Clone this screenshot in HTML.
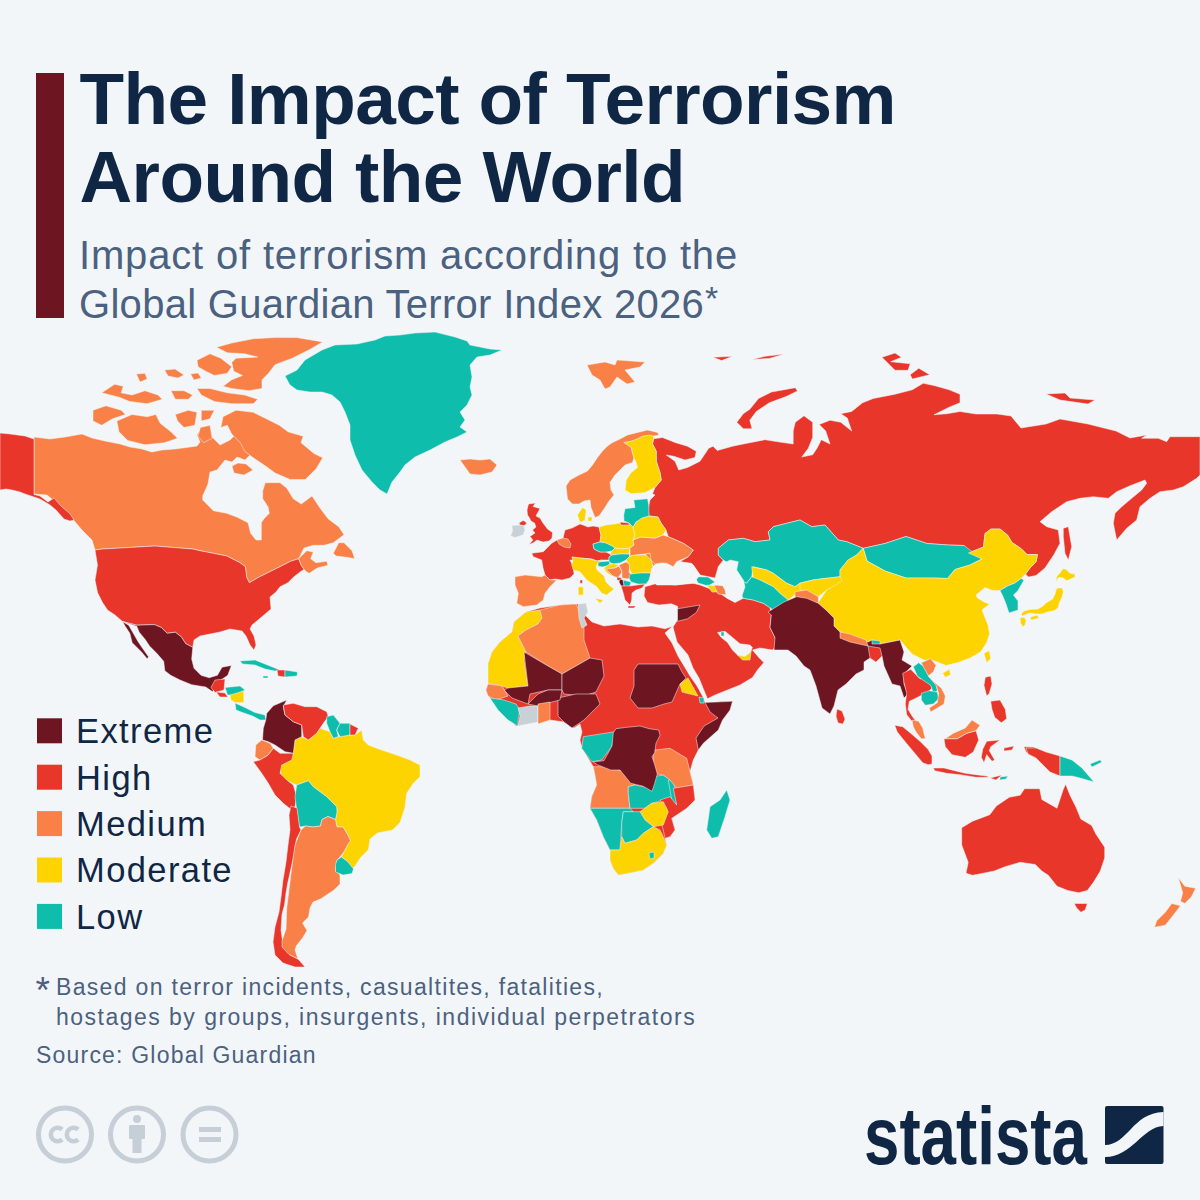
<!DOCTYPE html>
<html><head><meta charset="utf-8">
<style>
html,body{margin:0;padding:0;}
body{width:1200px;height:1200px;background:#f3f6f9;overflow:hidden;}
svg{position:absolute;left:0;top:0;}
text{font-family:"Liberation Sans",sans-serif;}
</style></head><body>
<svg width="1200" height="1200" viewBox="0 0 1200 1200">
<g stroke="#f3f6f9" stroke-width="0.5" stroke-linejoin="round">
<path fill="#f98147" d="M34,437 L50,439 L65,437 L82,434 L92,438 L105,441 L120,444 L130,447 L142,449 L152,452 L162,450 L175,449 L190,447 L197,446 L200,442 L197,435 L200,430 L207,432 L215,440 L220,445 L230,440 L235,435 L240,440 L247,447 L250,455 L245,460 L237,457 L232,462 L225,460 L217,470 L210,472 L208,484 L202.7,496 L202.7,500 L206.7,504 L213.3,510.7 L226.7,513.3 L237.3,517.3 L248,522.7 L250.7,533.3 L256,540 L261.3,540 L261.3,522.7 L264,518.7 L269.3,513.3 L268,506.7 L262.7,498.7 L262.7,490.7 L265.3,482.7 L280,482.7 L286.7,488 L293.3,498.7 L301.3,504 L312,496 L320,508 L328,518.7 L338.7,526.7 L344,534.7 L333.3,542.7 L324,545.3 L313.3,545.3 L304,548 L298.7,558.7 L290.7,561.3 L280,566.7 L269.3,572 L258.7,577.3 L249.3,582.7 L246.7,577.3 L245.3,566.7 L240,562.7 L226.7,556 L213.3,553.3 L200,550.7 L192.5,549 L155,546 L102.5,549 L95,550 L92,540 L82,530 L65,510 L47,495 L34,494Z"/>
<path fill="#f98147" d="M232,466 L238,463 L246,464 L253,470 L244,475 L234,473Z"/>
<path fill="#f98147" d="M216.5,347.3 L231.7,343 L253.3,338.7 L275,337.6 L296.7,337.6 L322.7,341.9 L309.7,349.5 L292.3,358.2 L275,364.7 L268.5,373.3 L262,379.8 L262,388.5 L249,390.7 L231.7,388.5 L223,386.3 L231.7,379.8 L242.5,375.5 L233.8,371.2 L231.7,362.5 L236,358.2 L257.7,357.1 L244.7,353.8 L227.3,352.8Z"/>
<path fill="#f98147" d="M197,360.3 L210,353.8 L220.8,358.2 L231.7,366.8 L227.3,373.3 L214.3,375.5 L205.7,371.2 L198.1,366.8Z"/>
<path fill="#f98147" d="M197,388.5 L210,388.5 L227.3,392.8 L244.7,395 L257.7,399.3 L253.3,403.7 L231.7,403.7 L214.3,401.5 L201.3,395Z"/>
<path fill="#f98147" d="M164.5,370 L175,369 L184,375 L178,378 L168,376Z"/>
<path fill="#f98147" d="M190.5,374 L198,373 L201.3,378 L194,380Z"/>
<path fill="#f98147" d="M136.3,374 L145,373.3 L147.2,379 L140,382Z"/>
<path fill="#f98147" d="M101.7,392.8 L114.7,384.2 L123.3,386.3 L121.2,392.8 L132,395 L145,390.7 L158,395 L162.3,399.3 L147.2,403.7 L129.8,401.5 L119,397.2Z"/>
<path fill="#f98147" d="M171,390.7 L184,390.7 L192.7,395 L188.3,399.3 L175.3,399.3Z"/>
<path fill="#f98147" d="M93,410.2 L106,405.8 L121.2,410.2 L125.5,414.5 L112.5,418.8 L101.7,425.3 L93,420.9Z"/>
<path fill="#f98147" d="M116.8,421 L132,414.5 L147.2,416.7 L155.8,414.5 L160.2,423.2 L171,431.8 L177.5,438.3 L164.5,442.7 L145,444.8 L127.7,440.5 L119,431.8Z"/>
<path fill="#f98147" d="M175.3,414.5 L188.3,410.2 L197,412.3 L194.8,425.3 L184,427.5 L177.5,421Z"/>
<path fill="#f98147" d="M201.3,410.2 L214.3,410.2 L210,418.8 L201.3,421Z"/>
<path fill="#f98147" d="M223,416.7 L236,410.2 L253.3,412.3 L266.3,418.8 L279.3,425.3 L288,431.8 L303.2,436.2 L301,442.7 L314,453.5 L322.7,457.8 L316.2,468.7 L305.3,479.5 L290.2,479.5 L275,473 L266.3,466.5 L253.3,457.8 L244.7,451.3 L240.3,442.7 L231.7,434 L227.3,425.3 L220.8,427.5Z"/>
<path fill="#f98147" d="M200.3,427.5 L210,425.3 L212.2,438.3 L203.5,442.7 L198.1,436.2Z"/>
<path fill="#e8362a" d="M0,433 L10,434 L25,436 L34,439 L34,494.5 L40,496 L48,502 L54,498 L60,505 L70,514 L74,520 L70,521 L64,519 L56,510 L50,505 L40,499 L25,494 L20,492 L12,490 L6,489 L0,490Z"/>
<path fill="#0ebdab" d="M285,376 L297,370 L305,360 L322,350 L335,345 L357,344 L375,340 L385,336 L400,335 L415,333 L435,332 L455,337 L467,341 L470,345 L490,349 L502,350 L490,355 L477,357 L470,365 L472,377 L470,387 L472,395 L467,405 L460,412 L465,420 L460,427 L467,432 L457,437 L445,442 L430,450 L415,457 L405,465 L400,472 L392,482 L387,494 L380,490 L372,482 L362,470 L355,455 L350,440 L350,425 L345,412 L340,402 L332,395 L322,392 L310,392 L297,390 L290,385Z"/>
<path fill="#f98147" d="M460,460 L470,459 L480,460 L490,459 L497,465 L492,472 L480,475 L470,474 L465,467Z"/>
<path fill="#f98147" d="M587,365 L605,362 L615,365 L617,360 L645,362 L640,367 L625,370 L635,382 L627,384 L617,377 L610,387 L605,389 L600,380 L592,375Z"/>
<path fill="#e8362a" d="M652.5,443.75 L653.75,438.75 L662.5,437.5 L675,442.5 L687.5,446.25 L696.25,451.25 L695,457.5 L685,460 L673.75,456.25 L666.25,455 L675,461.25 L678.75,470 L687.5,467.5 L700,461.3 L708.7,448.3 L713,446.2 L717.3,450.5 L732.5,446.2 L743.3,444 L765,439.7 L778,441.8 L793.2,444 L793.2,431 L795.3,422.3 L804,415.8 L812.7,422.3 L812.7,437.5 L808.3,448.3 L801.8,457 L812.7,454.8 L817,448.3 L821.3,439.7 L830,444 L825.7,431 L819.2,424.5 L830,420.2 L840.8,422.3 L851.7,431 L847.3,418 L840.8,413.7 L851.7,411.5 L862.5,402.8 L873.3,398.5 L895,394.2 L912.3,389.8 L923.2,383.3 L934,385.5 L949.2,389.8 L960,394.2 L960,402.8 L949.2,407.2 L934,414.8 L947,413.7 L960,411.5 L976,414 L997,414 L1011,416 L1021,428 L1046,424 L1060,419 L1088,424 L1116,431 L1130,438 L1147,435 L1141.7,438.3 L1158.3,438.3 L1166.7,441.7 L1170,436.7 L1200,436.7 L1200,475 L1196.7,478.3 L1183.3,486.7 L1173.3,490 L1160,491.7 L1150,498.3 L1140,506.7 L1136.7,520 L1126.7,528.3 L1116.7,540 L1113.3,523.3 L1115,513.3 L1121.7,506.7 L1131.7,498.3 L1141.7,490 L1146.7,483.3 L1145,480 L1130,485.8 L1116.7,491.7 L1108.3,498.3 L1093.3,496.7 L1080,498.3 L1066.7,501.7 L1051.7,511.7 L1040,521.7 L1046.7,526.7 L1058.3,530 L1060,543.3 L1054,554.5 L1045,568 L1036,575.5 L1028.5,577 L1025.5,574 L1030,568 L1036,562 L1037.5,554.5 L1027,554.5 L1021,548.5 L1012,542.5 L1007.5,535 L1000,529 L991,529 L985,533.5 L983.5,547 L968.5,553 L964,545.5 L948,545 L927,543.5 L906,536.5 L885,543.5 L863.3,548.3 L846.7,541.7 L838.3,540 L825,525 L811.7,526.7 L800,520 L786.7,523.3 L773.3,526.7 L768.3,531.7 L770,540 L755,541.7 L743.3,538.3 L728.3,540 L718.3,548.3 L718.3,555 L723.3,560 L718.3,566.7 L715,578 L700,575 L693.3,565 L680,561.7 L688.3,556.7 L693.3,550 L683.3,543.3 L668.3,536.7 L666,530 L661,523 L658,517 L649,516 L648,510 L650,500 L655,495 L652.5,493.75 L655,487.5 L661.25,480 L660,472.5 L656.25,461.25 L656.25,451.25Z"/>
<path fill="#e8362a" d="M1063.3,528.3 L1068.3,526.7 L1071.7,546.7 L1068.3,560 L1065,553.3 L1063.3,536.7Z"/>
<path fill="#e8362a" d="M736.8,422.3 L743.3,413.7 L749.8,409.3 L758.5,398.5 L771.5,392 L795.3,387.7 L797.5,390.9 L786.7,396.3 L769.3,402.8 L756.3,411.5 L749.8,420.2 L752,428.8 L743.3,428.8Z"/>
<path fill="#e8362a" d="M882,357.3 L895,353 L901.5,357.3 L890.7,361.7 L910.2,363.8 L908,370.3 L895,370.3 L888.5,363.8Z"/>
<path fill="#e8362a" d="M910.2,374.7 L918.8,368.2 L929.7,374.7 L912.3,379Z"/>
<path fill="#e8362a" d="M713,357.3 L732.5,356.3 L721.7,360.6Z"/>
<path fill="#e8362a" d="M752,359.5 L765,356.3 L784.5,354.1 L769.3,358.4Z"/>
<path fill="#e8362a" d="M1046,394 L1065,393 L1070,398 L1095,400 L1088,404 L1060,400Z"/>
<path fill="#0ebdab" d="M718.3,548.3 L728.3,540 L743.3,538.3 L755,541.7 L770,540 L768.3,531.7 L773.3,526.7 L786.7,523.3 L800,520 L811.7,526.7 L825,525 L838.3,540 L846.7,541.7 L863.3,548.3 L856.7,555 L848.3,560 L840,570 L840,576.7 L826.7,578.3 L813.3,580 L800,583.3 L795,586.7 L786.7,583.3 L773.3,573.3 L766.7,570 L753.3,566.7 L751.7,576.7 L746.7,583.3 L740,580 L736.7,573.3 L731.7,565 L723.3,560 L718.3,555Z"/>
<path fill="#0ebdab" d="M863.3,548.3 L885,543.5 L906,536.5 L927,543.5 L948,545 L964,545.5 L970,550 L982,559 L970,565 L955,569.5 L947.5,578.5 L934,578 L906,578 L885,571 L867,561Z"/>
<path fill="#f98147" d="M566,486 L570,480 L579,475 L587.5,471 L592.5,465 L597.5,457.5 L602.5,451 L607.5,446 L612.5,442.5 L620,439 L627.5,435 L637.5,432.5 L647.5,430 L657.5,432.5 L659,435 L654,436 L645,436 L637.5,439 L632.5,441 L626,442.5 L631,447.5 L634,457.5 L632.5,462.5 L625,465 L620,470 L615,475 L610,482.5 L611,490 L614,495 L609,501 L605,507.5 L599,516 L595,517.5 L591,507.5 L590,500 L584,501 L579,504 L572.5,504 L567.5,499Z"/>
<path fill="#fdd300" d="M623.75,442.5 L631.25,441.25 L637.5,438.75 L642.5,436.25 L650,435 L653.75,436.25 L652.5,443.75 L656.25,451.25 L656.25,461.25 L660,472.5 L661.25,480 L655,487.5 L645,492.5 L631.25,493.75 L625,490 L626.25,480 L631.25,472.5 L637.5,467.5 L636.25,462.5 L633.75,457.5 L631.25,447.5Z"/>
<path fill="#fdd300" d="M577.5,515 L582.5,507.5 L586.25,510 L585,520 L580,522.5Z"/>
<path fill="#fdd300" d="M588,517 L592,517 L592,521 L588,521Z"/>
<path fill="#e8362a" d="M95,550 L102.5,549 L155,546 L192.5,549 L200,550.7 L213.3,553.3 L226.7,556 L240,562.7 L245.3,566.7 L246.7,577.3 L249.3,582.7 L258.7,577.3 L269.3,572 L280,566.7 L290.7,561.3 L298.7,558.7 L301.3,565.3 L304,569.3 L300,572 L293.3,577.3 L288,582.7 L280,586.7 L276,592 L270,597 L271,609 L264,615 L258,620 L252,625 L250,629 L254,636 L256,645 L254,650 L250,645 L246,636 L242,631 L236,630 L230,629 L220,632 L210,634 L200,636 L194,640 L192.8,647.3 L185.8,643.8 L181.2,636.8 L175.3,632.2 L167.2,633.3 L161.3,627.5 L154.3,624.6 L136.8,625.2 L122.8,621.7 L115,615 L107.5,610 L102.5,602.5 L97.5,592.5 L95,580 L97.5,565Z"/>
<path fill="#f98147" d="M333.3,553.3 L338.7,542.7 L344,542.7 L352,550.7 L354.7,558.7 L346.7,557.3 L336,556Z"/>
<path fill="#f98147" d="M298.7,558.7 L306.7,550.7 L313.3,552 L310.7,558.7 L316,562.7 L326.7,561.3 L328,565.3 L317.3,568 L309.3,573.3 L306.7,572 L304,569.3 L301.3,565.3Z"/>
<path fill="#6d1622" d="M122.8,621.7 L136.8,625.2 L154.3,624.6 L161.3,627.5 L167.2,633.3 L175.3,632.2 L181.2,636.8 L185.8,643.8 L192.8,647.3 L191.7,659 L194,668.3 L201,675.3 L209.2,677.7 L217.4,675.3 L222,667.2 L231.4,665.4 L227.8,675.3 L220.9,680 L215,685.8 L212.7,691.7 L205.7,687 L191.7,684.7 L180,680 L170.7,675.3 L164.8,670.7 L163.7,661.3 L156.7,653.2 L149.7,646.2 L145,639.2 L139.2,632.2 L136.8,626.3Z"/>
<path fill="#6d1622" d="M122.8,621.7 L128.7,625.2 L133.3,633.3 L138,641.5 L142.7,648.5 L148.5,656.7 L147.3,659 L141.5,652 L132.2,642.7 L129.8,633.3 L125.2,626.3Z"/>
<path fill="#e8362a" d="M215,680 L225,679 L224,690 L215,692.5 L211,687.5Z"/>
<path fill="#0ebdab" d="M225,687.5 L240,686 L245,690 L235,695 L227.5,695Z"/>
<path fill="#e8362a" d="M216,692 L225,693 L228,697 L220,697Z"/>
<path fill="#fdd300" d="M230,695 L243.75,691 L243.75,702.5 L235,702.5 L231,700Z"/>
<path fill="#0ebdab" d="M235,703 L245,707.5 L255,712.5 L265,715 L266,720 L260,720 L252.5,716 L242.5,712.5 L236,710Z"/>
<path fill="#0ebdab" d="M240,661 L255,660 L270,666 L280,670 L275,671 L265,669 L255,665 L242.5,664Z"/>
<path fill="#e8362a" d="M277,670 L285,670 L285,677 L278,676Z"/>
<path fill="#0ebdab" d="M285,670 L297.5,672 L297,676 L285,677Z"/>
<path fill="#0ebdab" d="M263,676 L268,676 L268,678 L263,678Z"/>
<path fill="#fdd300" d="M295,740 L301.7,736.7 L308.3,740 L316.7,733.3 L320,728.3 L330,731.7 L333.3,738.3 L338.3,736.7 L350,735 L355,735 L361.7,730 L363.3,740 L368.3,745 L376.7,748.3 L386.7,751.7 L396.7,755 L410,760 L420,765 L420,776.7 L413.3,783.3 L406.7,793.3 L405,806.7 L404.5,809 L400,822.5 L392.5,830 L377.5,833 L370,839 L368.5,849.5 L361,857 L355,866 L352,869 L347.5,861.5 L341.5,857 L347.5,845 L350.5,840.5 L347.5,834.5 L343,827 L337,827 L335.5,819.5 L337,812 L336.7,806.7 L326.7,796.7 L313.3,786.7 L308.3,780.8 L296.7,785 L281.7,778.3 L280,766.7 L285,756.7 L293.3,753.3Z"/>
<path fill="#6d1622" d="M266.7,713.3 L273.3,705.8 L286.7,700 L283.3,706.7 L285,715 L293.3,721.7 L301.7,725 L301.7,736.7 L295,740 L293.3,753.3 L285,751.7 L275,745 L268.3,741.7 L262.5,740 L263.3,728.3 L265.8,720Z"/>
<path fill="#e8362a" d="M283.3,705 L293.3,703.3 L305,706.7 L316.7,706.7 L326.7,711.7 L328.3,716.7 L323.3,723.3 L320,728.3 L316.7,733.3 L308.3,740 L303.3,736.7 L301.7,725 L293.3,721.7 L285,715Z"/>
<path fill="#0ebdab" d="M326.7,716.7 L333.3,715 L340,723.3 L336.7,730 L338.3,736.7 L333.3,738.3 L330,731.7 L326.7,723.3Z"/>
<path fill="#0ebdab" d="M340,723.3 L350,723.3 L350,735 L340,736.7 L336.7,730Z"/>
<path fill="#e8362a" d="M350,724 L358.3,728.3 L355,735 L350,735Z"/>
<path fill="#f98147" d="M255.8,745 L261.7,740 L270,743.3 L273.3,748.3 L268.3,755 L260,760 L255,756.7Z"/>
<path fill="#e8362a" d="M260,760 L268.3,755 L273.3,748.3 L280,753.3 L293.3,753.3 L291.7,760 L281.7,765 L280,773.3 L286.7,780 L293.3,785 L296.7,796.7 L295,806.7 L291.7,810 L283.3,803.3 L275,795 L268.3,783.3 L261.7,773.3 L253.3,761.7Z"/>
<path fill="#0ebdab" d="M296.7,785 L308.3,780.8 L313.3,786.7 L326.7,796.7 L336.7,806.7 L337,812 L335.5,819.5 L328,816.5 L322,819.5 L320.5,826 L313,827 L305.5,826 L299.5,827 L296.7,810 L295,796.7Z"/>
<path fill="#e8362a" d="M291,806 L297,808 L299.5,827 L301,830 L296.5,839 L293.5,857 L290.5,870.5 L287.5,884 L286,893 L284.5,905 L282,914 L281,930 L283,945 L290,955 L298,959 L305,967 L295,967 L283,963 L275,955 L273,942 L275,927 L279,912 L281,897 L283,880 L286,862 L288,845 L290,830 L289,815Z"/>
<path fill="#f98147" d="M301,830 L305.5,826 L313,827 L320.5,826 L322,819.5 L328,816.5 L335.5,819.5 L337,827 L343,827 L347.5,834.5 L350.5,840.5 L347.5,845 L344.5,851 L340,857 L337,860 L335.5,870.5 L340,875 L340,884 L334,890 L325,896 L320.5,899 L313,902 L310,908 L308.5,917 L302.5,923 L307,930.5 L302.5,938 L296.5,945.5 L295,950 L298,959 L289,954.5 L282,947 L282,941 L286,929 L286.75,908 L289.75,884 L292,866 L295,845Z"/>
<path fill="#0ebdab" d="M337,860 L341.5,857 L347.5,861.5 L353.5,869 L352,873.5 L343,875 L335.5,872 L335.5,864.5Z"/>
<path fill="#e8362a" d="M528.5,504 L535.5,503 L533,506.5 L540,508.5 L537,514 L536,516 L540,518 L543,523 L547.5,529 L552.5,532.5 L552,538 L549,541 L543,542 L537,540 L533,543 L529,544.5 L533,540 L530,536.5 L535,533 L532.5,530 L536,527 L534.5,523 L531,521 L529.5,518 L527.5,515 L527,510Z"/>
<path fill="#c9d1d8" d="M512,525.5 L520,525 L524,526 L525,530 L523,535 L515,537.5 L510.5,536 L512.5,531Z"/>
<path fill="#e8362a" d="M519,523 L523,520.5 L526,522 L526.5,524 L524,525.5 L520,525Z"/>
<path fill="#e8362a" d="M531.7,553.3 L543.3,551.7 L551.7,543.3 L557,540 L563,538 L565,530 L572,528 L578,525 L580,524 L583,525 L588,527 L593,526 L599,527 L601,535 L600,542 L593,544 L594,549 L600,552 L606,552 L610,554 L612,555 L609,557 L609,560 L602,560 L597,561 L592,559 L580,558 L572,557 L573,560 L570,560 L573,566 L574,574 L570,578 L562,580 L555,579 L550,580 L545,575 L543,568 L541.7,560 L533.3,556.7Z"/>
<path fill="#f98147" d="M557,540 L563,538 L568,539 L571,544 L570,548 L564,547 L559,544Z"/>
<path fill="#f98147" d="M515,576.7 L525,575 L541.7,576.7 L545,575 L550,580 L556.7,580 L550,586.7 L545,593.3 L543.3,600 L536.7,605 L523.3,606.7 L516.7,603.3 L518.3,593.3 L515,585Z"/>
<path fill="#fdd300" d="M599,527 L606,525 L614,524 L620,523 L629,523 L633,527 L635,535 L633,540 L634,545 L630,548 L623,549 L615,548 L612,546 L606,543 L600,542 L601,535Z"/>
<path fill="#0ebdab" d="M593,544 L600,542 L606,543 L612,546 L615,548 L612,551 L606,552 L600,552 L594,549Z"/>
<path fill="#fdd300" d="M612,551 L615,548 L623,549 L630,548 L629,554 L620,554 L612,555 L610,554Z"/>
<path fill="#0ebdab" d="M609,557 L612,555 L620,554 L629,554 L630,556 L626,560 L620,563 L613,564 L609,562Z"/>
<path fill="#0ebdab" d="M598,562 L609,561 L610,564 L607,566 L602,567 L598,566Z"/>
<path fill="#fdd300" d="M572,557 L580,558 L590,559 L597,561 L602,560 L598,563 L596,566 L597,570 L604,576 L606,582 L610,586 L614,589 L606.7,595 L601.7,593.3 L596.7,586.7 L586.7,580 L580,571.7 L573.3,570 L571.7,565 L573,560Z"/>
<path fill="#fdd300" d="M578.3,586.7 L583.3,587 L583.3,595 L578.3,595Z"/>
<path fill="#e8362a" d="M580,580 L582.5,580 L582.5,583.3 L580,583.3Z"/>
<path fill="#fdd300" d="M595,598.3 L603.3,600 L600,603.3Z"/>
<path fill="#fdd300" d="M610,564 L614,564 L619,565 L615,568 L610,570 L614,576 L612,576 L606,572 L604,568Z"/>
<path fill="#f98147" d="M606,569 L615,568 L619,566 L622,572 L618,578 L613,576Z"/>
<path fill="#f98147" d="M619,565 L626,562 L630,564 L629,572 L632,576 L628,579 L622,578 L622,572Z"/>
<path fill="#e8362a" d="M617,577 L622,578 L620,581 L617,580Z"/>
<path fill="#fdd300" d="M626,560 L630,556 L635,555 L645,555 L649,556 L652,562 L653,568 L651,573 L640,573 L632,574 L630,570 L629,564Z"/>
<path fill="#f98147" d="M645,554 L650,553 L655,558 L656,564 L653,566 L651,560Z"/>
<path fill="#f98147" d="M633,540 L640,537 L655,538 L663,535 L668.3,536.7 L683.3,543.3 L693.3,550 L688.3,556.7 L676.7,561.7 L673.3,566.7 L666.7,563.3 L662,563 L655,564 L651,560 L650,553 L645,554 L635,555 L630,556 L630,548 L634,545Z"/>
<path fill="#fdd300" d="M633,527 L636,522 L642,518 L649,516 L658,517 L661,523 L666,530 L663,535 L655,538 L640,537 L633,540 L635,535Z"/>
<path fill="#0ebdab" d="M633.75,500 L647.5,498.75 L648.75,505 L649,516 L642,518 L636,522 L633,527 L629,523 L624,521 L623.75,515 L625,508.75 L635,507.5Z"/>
<path fill="#e8362a" d="M620,522 L629,523 L629,525 L621,525Z"/>
<path fill="#0ebdab" d="M630,574 L640,573 L651,573 L649,580 L646,584 L638,584 L631,582 L629,578Z"/>
<path fill="#0ebdab" d="M623,580 L631,582 L630,586 L624,587Z"/>
<path fill="#6d1622" d="M620,579 L623,580 L624,586 L621,586 L619,582Z"/>
<path fill="#e8362a" d="M621,586 L630,586 L637,585 L645,584 L642,588 L636,590 L632,593 L631.7,600 L630,605 L625,600 L623.3,593.3Z"/>
<path fill="#e8362a" d="M628,606 L636,606 L634,608 L628,608Z"/>
<path fill="#e8362a" d="M645,586.7 L658,583 L675,585 L692,583 L700,585 L708,588 L718,592 L726,597.5 L735,602.5 L743.3,598.3 L753.3,600 L763.3,603.3 L770,607.5 L771.3,615 L770,627.5 L775,637.5 L777.5,645 L772.5,650 L760,648 L752.5,650 L758.8,657.5 L763.8,662.5 L757.5,670 L752.5,677.5 L740,685 L727.5,690 L715,695 L707.5,698.8 L703,688 L699,678 L693,668 L688,655 L677,642 L673,627 L677.5,620 L678.8,615 L677.5,606.3 L671.3,603.8 L658.8,605 L647.5,602.5 L644,596Z"/>
<path fill="#6d1622" d="M677.5,608.8 L700,605 L696.3,612.5 L687.5,618.8 L677.5,621.3Z"/>
<path fill="#fdd300" d="M737.5,655 L745,656.3 L751.3,650 L750,660 L742.5,660Z"/>
<path fill="#0ebdab" d="M695,576.7 L708,577 L715,582 L708,586 L698,583Z"/>
<path fill="#fdd300" d="M707,585 L718,586 L722,592 L712,592Z"/>
<path fill="#f98147" d="M714,585 L726,586 L728,595 L718,594Z"/>
<path fill="#f3f6f9" d="M717.5,632.5 L725,631.3 L732.5,637.5 L740,643.8 L750,645 L752.5,647.5 L750,652.5 L745,656.3 L737.5,655 L732.5,650 L727.5,642.5 L721.3,637.5Z"/>
<path fill="#0ebdab" d="M721,632 L724,632 L724,636 L721,636Z"/>
<path fill="#e8362a" d="M488,664 L492,652 L500,642 L512,632 L514,622 L526,612 L540,608 L560,605 L576,604 L582,604 L586,616 L592,622 L604,626 L620,624 L638,627 L652,626 L665,628.8 L672.5,626.3 L665,633 L672,643 L678,656 L684,666 L690,676 L697,686 L703,697 L705,702.5 L732.5,701.3 L730,710 L722.5,720 L718.3,730 L703.3,743.3 L698.3,750 L693.3,760 L690,771.7 L693.3,785 L695,800 L686.7,808.3 L671.7,818.3 L675,830 L670,836.7 L665,838.3 L666.7,845 L663.3,853.3 L653.3,863.3 L643.3,870 L628.3,873.3 L618.3,875 L613.3,868.3 L610,860 L610,850 L603.3,836.7 L596.7,820 L590,808.3 L591.7,796.7 L596.7,785 L595,775 L593.3,766.7 L588,758 L582,748 L580,740 L582,732 L580,724 L574,728 L564,722 L550,720 L536,722 L524,724 L516,726 L504,714 L496,704 L490,698 L486,690 L488,684Z"/>
<path fill="#fdd300" d="M488,664 L492,652 L500,642 L512,632 L514,622 L526,612 L540,610 L542,618 L538,624 L526,630 L518,636 L526,652 L524,660 L528,686 L508,688 L498,685 L488,684Z"/>
<path fill="#f98147" d="M518,636 L526,630 L538,624 L542,618 L540,610 L560,605 L576,604 L580,612 L584,622 L584,640 L590,658 L576,666 L562,674 L548,666 L526,652Z"/>
<path fill="#c9d1d8" d="M578,604 L586,603 L588,612 L584,618 L587,625 L582,628 L579,618Z"/>
<path fill="#6d1622" d="M524,652 L548,666 L562,674 L562,690 L548,690 L530,694 L528,704 L512,698 L504,690 L508,688 L528,686Z"/>
<path fill="#6d1622" d="M562,674 L576,666 L590,658 L602,660 L604,676 L596,692 L584,696 L564,694 L562,690Z"/>
<path fill="#6d1622" d="M638,664 L678,664 L682,672 L686,678 L680,684 L672,702 L664,704 L652,708 L638,708 L630,698 L634,686 L634,670Z"/>
<path fill="#fdd300" d="M680,684 L688,678 L698,696 L682,692Z"/>
<path fill="#0ebdab" d="M699,697 L704,698 L704,703 L700,703Z"/>
<path fill="#6d1622" d="M705,702.5 L732.5,701.3 L730,710 L722.5,720 L718.3,730 L703.3,743.3 L698.3,750 L696,738 L704,726 L718,718 L710,712Z"/>
<path fill="#6d1622" d="M558,698 L576,694 L596,694 L600,704 L592,712 L584,720 L572,728 L564,722 L558,716Z"/>
<path fill="#6d1622" d="M528,704 L538,694 L548,690 L562,690 L560,700 L552,702 L538,706Z"/>
<path fill="#f98147" d="M488,684 L502,686 L508,696 L496,700 L488,696 L486,690Z"/>
<path fill="#0ebdab" d="M490,698 L504,700 L516,704 L520,710 L518,720 L518,726 L508,720 L498,710Z"/>
<path fill="#c9d1d8" d="M518,708 L530,706 L538,706 L538,722 L528,724 L518,726 L520,716Z"/>
<path fill="#f98147" d="M538,704 L550,702 L550,720 L538,724Z"/>
<path fill="#0ebdab" d="M583.3,736.7 L615,731.7 L611.7,746.7 L601.7,760 L591.7,761.7 L581.7,748.3Z"/>
<path fill="#f98147" d="M593.3,766.7 L610,766.7 L618.3,770 L626.7,771.7 L635,785 L628.3,786.7 L628.3,793.3 L630,808.3 L590,808.3 L591.7,796.7 L596.7,785 L595,775Z"/>
<path fill="#0ebdab" d="M628.3,786.7 L635,785 L643.3,786.7 L650,788.3 L653.3,776.7 L663.3,775 L671.7,780 L673.3,796.7 L663.3,800 L651.7,803.3 L645,808.3 L630,808.3 L628.3,793.3Z"/>
<path fill="#0ebdab" d="M668.3,780 L673.3,780 L676.7,796.7 L676.7,805 L671.7,800Z"/>
<path fill="#f98147" d="M655,750 L670,748.3 L686.7,758.3 L690,771.7 L693.3,785 L676.7,788.3 L670,780 L663.3,775 L653.3,773.3 L653.3,755Z"/>
<path fill="#e8362a" d="M673.3,788.3 L693.3,785 L695,800 L686.7,808.3 L671.7,818.3 L675,830 L670,836.7 L665,838.3 L663.3,830 L660,818.3 L666.7,808.3 L660,800 L670,796.7 L676.7,805Z"/>
<path fill="#fdd300" d="M640,811.7 L651.7,803.3 L663.3,801.7 L668.3,811.7 L663.3,825 L653.3,826.7 L645,820Z"/>
<path fill="#0ebdab" d="M590,808.3 L630,808.3 L633.3,811.7 L623.3,811.7 L621.7,823.3 L620,850 L610,850 L603.3,836.7 L596.7,820Z"/>
<path fill="#0ebdab" d="M623.3,811.7 L640,811.7 L645,820 L653.3,826.7 L643.3,833.3 L636.7,840 L625,843.3 L621.7,836.7 L621.7,823.3Z"/>
<path fill="#fdd300" d="M610,850 L620,850 L621.7,836.7 L625,843.3 L636.7,840 L643.3,833.3 L653.3,826.7 L660,830 L663.3,836.7 L666.7,845 L663.3,853.3 L653.3,863.3 L643.3,870 L628.3,873.3 L618.3,875 L613.3,868.3 L610,860Z"/>
<path fill="#0ebdab" d="M649,853 L654,852 L654,858 L650,859Z"/>
<path fill="#6d1622" d="M613.3,732.7 L616,728.7 L626.7,727.3 L640,726 L649.3,728.7 L658.7,730 L660,735.3 L656,743.3 L654.7,752.7 L652,756.7 L654.7,764.7 L657.3,774 L654.7,783.3 L652,791.3 L642.7,786 L630.7,783.3 L620,770 L610.7,770 L597.3,764.7 L593.3,762 L604,760.7 L612,746Z"/>
<path fill="#0ebdab" d="M726.7,790 L730,800 L725,816.7 L718.3,836.7 L711.7,838.3 L706.7,830 L710,806.7 L720,800Z"/>
<path fill="#fdd300" d="M818,603 L826.7,590 L840,580 L840,570 L848,560 L856.7,555 L863,548 L867,561 L885,571 L906,578 L934,578 L947.5,578.5 L955,569.5 L970,565 L982,559 L968.5,553 L983.5,547 L985,533.5 L991,529 L1000,529 L1007.5,535 L1012,542.5 L1021,548.5 L1027,554.5 L1037.5,554.5 L1036,562 L1030,568 L1025.5,574 L1021,578.5 L1015,583 L1007.5,586 L1000,590.5 L992.5,590.5 L985,587.5 L976,595 L977.5,598 L985,602.5 L989.5,604 L982,610 L985,617.5 L988,625 L989.5,634 L986.5,643 L980.5,652 L970,658 L958,662.5 L946,665.5 L932,660 L924,660 L912,654 L900,640 L880,644 L872,640 L868,642 L850,638 L840,632 L834,626 L834,618 L826,610Z"/>
<path fill="#fdd300" d="M751.7,566.7 L766.7,570 L773.3,573.3 L786.7,583.3 L795,586.7 L800,583.3 L813.3,580 L826.7,578.3 L836.7,580 L825,586.7 L811.7,588.3 L796.7,593.3 L788.3,600 L780,593.3 L773.3,586.7 L760,580 L753.3,580Z"/>
<path fill="#fdd300" d="M800,583.3 L813.3,580 L826.7,578.3 L840,576.7 L842,580 L838.3,583.3 L826.7,590 L818.3,596.7 L810,593.3 L800,590Z"/>
<path fill="#f98147" d="M795,591.7 L806.7,590 L818.3,596.7 L818.3,603.3 L806.7,603.3 L795,600Z"/>
<path fill="#0ebdab" d="M740,580 L746.7,583.3 L751.7,576.7 L760,580 L773.3,586.7 L780,593.3 L788.3,600 L783.3,606.7 L773.3,610 L763.3,603.3 L753.3,600 L743.3,598.3 L738.3,590Z"/>
<path fill="#6d1622" d="M768,612 L784,602 L796.7,596.7 L806.7,598.3 L818.3,603.3 L826,610 L834,618 L834,626 L840,632 L850,638 L868,642 L872,640 L880,644 L900,640 L904,652 L902,660 L912,666 L904,674 L904,684 L908,694 L904,698 L900,686 L892,684 L884,666 L882,656 L876,662 L870,658 L864,662 L864,670 L856,674 L846,684 L838,690 L834,706 L830,714 L822,708 L816,686 L810,670 L804,666 L796,656 L788,650 L774,650 L775,637.5 L770,627.5 L771.3,615Z"/>
<path fill="#e8362a" d="M868,646 L880,648 L882,656 L876,662 L870,658Z"/>
<path fill="#f98147" d="M840,632 L850,634 L866,640 L868,646 L850,642 L840,638Z"/>
<path fill="#0ebdab" d="M872,640 L880,641 L880,644 L872,644Z"/>
<path fill="#e8362a" d="M837,709 L842,711 L845,719 L843,724 L838,723 L836,716Z"/>
<path fill="#e8362a" d="M902.7,673.3 L910.7,669.3 L916,674.7 L920,678.7 L929.3,680 L932,688 L926.7,693.3 L920,696 L914.7,698.7 L909.3,701.3 L908,709.3 L912,716 L916,721.3 L912,721.3 L906.7,714.7 L905.3,704 L906.7,693.3 L904,682.7Z"/>
<path fill="#0ebdab" d="M913.3,666.7 L918.7,662.7 L924,666.7 L926.7,672 L929.3,677.3 L936,684 L937.3,690.7 L933.3,693.3 L930.7,685.3 L922.7,680 L917.3,676Z"/>
<path fill="#0ebdab" d="M921.3,693.3 L929.3,690.7 L937.3,692 L938.7,698.7 L933.3,704 L925.3,705.3 L921.3,700Z"/>
<path fill="#f98147" d="M921.3,662.7 L930.7,658.7 L936,665.3 L933.3,672 L928,676 L934.7,682.7 L941.3,688 L945.3,696 L944,704 L937.3,708 L930.7,712 L929.3,708 L937.3,702.7 L938.7,693.3 L936,685.3 L929.3,677.3 L924,668Z"/>
<path fill="#f98147" d="M912,720 L918.7,721.3 L922.7,728 L925.3,738.7 L921.3,738.7 L916,732 L913.3,726.7Z"/>
<path fill="#fdd300" d="M942.7,673.3 L949.3,669.3 L950.7,674.7 L945.3,677.3Z"/>
<path fill="#fdd300" d="M984,653.3 L989.3,650.7 L990.7,658.7 L986.7,662.7Z"/>
<path fill="#0ebdab" d="M1000,590.5 L1007.5,586 L1015,583 L1021,578.5 L1024,580 L1018,590.5 L1013.5,595 L1018,601 L1018,610 L1009,613 L1006,604 L1003,596.5Z"/>
<path fill="#fdd300" d="M1062.7,568.7 L1066,569.3 L1070,573.3 L1074.7,574 L1075.3,576.7 L1070,579.3 L1066.7,580.7 L1063.3,578 L1058.7,577.3 L1056.7,580 L1058,582.7 L1056,580 L1057,576 L1060,573Z"/>
<path fill="#fdd300" d="M1057.3,588 L1062,588 L1063.3,592 L1062,597.3 L1059.3,602.7 L1058,608 L1054,610.7 L1047.3,612 L1042,614 L1036,614 L1030,613 L1025,614.7 L1022.7,616 L1021,614 L1024,611 L1030,609.5 L1038,609 L1043,606 L1046,603 L1052.7,599 L1055,594 L1056,590Z"/>
<path fill="#fdd300" d="M1020,618 L1024,617.3 L1026,620 L1025.3,624.7 L1022.7,626.7 L1020.7,623.3Z"/>
<path fill="#fdd300" d="M1030,617.3 L1036.7,615.3 L1039.3,618 L1031.3,620Z"/>
<path fill="#e8362a" d="M985.3,677.3 L990.7,676 L992,684 L989.3,693.3 L986.7,696 L984,685.3Z"/>
<path fill="#e8362a" d="M990.7,701.3 L1000,700 L1005.3,709.3 L1006.7,718.7 L1001.3,722.7 L994.7,717.3 L992,709.3Z"/>
<path fill="#e8362a" d="M894.7,725.3 L902.7,726.7 L910.7,733.3 L920,741.3 L928,749.3 L932,756 L932,764 L928,764.7 L922.7,762.7 L916,754.7 L909.3,746.7 L902.7,738.7 L897.3,732Z"/>
<path fill="#e8362a" d="M933.3,768 L944,768 L954.7,770.7 L965.3,773.3 L976,774.7 L986.7,776 L989.3,777.3 L976,777.3 L960,774.7 L946.7,773.3 L934.7,770.7Z"/>
<path fill="#e8362a" d="M990,778 L1002,775 L996,780Z"/>
<path fill="#e8362a" d="M944,738.7 L957.3,738.7 L966.7,733.3 L976,730.7 L978.7,740 L973.3,752 L965.3,757.3 L952,754.7 L945.3,746.7Z"/>
<path fill="#f98147" d="M945.3,738.7 L953.3,733.3 L965.3,728 L972,720 L980,725.3 L976,730.7 L966.7,733.3 L957.3,738.7Z"/>
<path fill="#e8362a" d="M982.7,749.3 L986.7,741.3 L1000,740 L990.7,746.7 L989.3,750.7 L994.7,760 L992,761.3 L986.7,754.7 L984,762.7 L981.3,757.3Z"/>
<path fill="#e8362a" d="M1004,748 L1014,746 L1012,750 L1004,751Z"/>
<path fill="#e8362a" d="M1024,746.7 L1034,747 L1040,752 L1032,756 L1026,752Z"/>
<path fill="#e8362a" d="M1026,748 L1036,748 L1046,752 L1060,756 L1060,776 L1050,772 L1036,758 L1028,754Z"/>
<path fill="#0ebdab" d="M1060,756 L1072,760 L1082,768 L1094,782 L1080,778 L1072,776 L1060,776Z"/>
<path fill="#0ebdab" d="M1090,764 L1100,760 L1102,762 L1092,767Z"/>
<path fill="#0ebdab" d="M1000,777 L1008,776 L1006,779 L1000,780Z"/>
<path fill="#e8362a" d="M961.7,827.7 L972.5,821.2 L989.8,814.7 L996.3,806 L1009.3,797.3 L1020.2,795.2 L1024.5,788.7 L1039.7,788.7 L1041.8,799.5 L1057,808.2 L1063.5,788.7 L1065.7,784.3 L1070,795.2 L1076.5,808.2 L1080.8,819 L1091.7,825.5 L1096,834.2 L1104.7,847.2 L1104.7,858 L1100.3,871 L1093.8,881.8 L1087.3,890.5 L1078.7,892.7 L1067.8,890.5 L1057,886.2 L1048.3,875.3 L1041.8,871 L1035.3,864.5 L1020.2,862.3 L1005,866.7 L994.2,871 L983.3,873.2 L972.5,875.3 L966,873.2 L968.2,862.3 L961.7,845Z"/>
<path fill="#e8362a" d="M1074.3,903.5 L1087.3,903.5 L1085.2,910 L1080.8,912.2 L1076.5,907.8Z"/>
<path fill="#f98147" d="M1178.3,877.5 L1184.8,886.2 L1195.7,888.3 L1191.3,897 L1184.8,903.5 L1180.5,901.3 L1182.7,892.7Z"/>
<path fill="#f98147" d="M1171.8,903.5 L1180.5,905.7 L1174,914.3 L1165.3,925.2 L1154.5,927.3 L1156.7,920.8 L1165.3,912.2Z"/>
<path fill="#f3f6f9" d="M651.7,568.3 L661.7,563.3 L673.3,568.3 L680,561.7 L691.7,563.3 L700,575 L693.3,583.3 L675,585 L656.7,585 L650,578.3Z"/>
<path fill="#f3f6f9" d="M718.3,566.7 L730,560 L738.3,561.7 L736.7,570 L743.3,580 L745,586.7 L741.7,596.7 L735,602 L726.7,598 L725,590 L720,580Z"/>
</g>
<rect x="36" y="73" width="28" height="245" fill="#6d1622"/>
<g fill="#0f2745" font-weight="bold" font-size="73">
<text x="79.5" y="123.75" style="letter-spacing:-0.6px">The Impact of Terrorism</text>
<text x="79.5" y="201.5" style="letter-spacing:-0.6px">Around the World</text>
</g>
<g fill="#4b6180" font-size="40">
<text x="79" y="269.2" style="letter-spacing:0.83px">Impact of terrorism according to the</text>
<text x="79" y="317.9" style="letter-spacing:0.3px">Global Guardian Terror Index 2026</text>
<text x="705" y="309.5" font-size="34">*</text>
</g>
<g>
<rect x="37" y="718.3" width="25" height="25" fill="#6d1622"/>
<rect x="37" y="764.7" width="25" height="25" fill="#e8362a"/>
<rect x="37" y="811.1" width="25" height="25" fill="#f98147"/>
<rect x="37" y="857.5" width="25" height="25" fill="#fdd300"/>
<rect x="37" y="903.9" width="25" height="25" fill="#0ebdab"/>
</g>
<g fill="#0f2745" font-size="34.5">
<text x="76" y="743.3" style="letter-spacing:1.4px">Extreme</text>
<text x="76" y="789.7" style="letter-spacing:1.4px">High</text>
<text x="76" y="836.1" style="letter-spacing:1.4px">Medium</text>
<text x="76" y="882.4" style="letter-spacing:1.4px">Moderate</text>
<text x="76" y="928.8" style="letter-spacing:1.4px">Low</text>
</g>
<g fill="#4b6180" font-size="23">
<text x="35.5" y="1002.5" font-size="37">*</text>
<text x="56" y="994.6" style="letter-spacing:1.32px">Based on terror incidents, casualtites, fatalities,</text>
<text x="56" y="1025" style="letter-spacing:1.48px">hostages by groups, insurgents, individual perpetrators</text>
<text x="36" y="1063" style="letter-spacing:1.2px">Source: Global Guardian</text>
</g>
<g fill="none" stroke="#c6cfd7" stroke-width="5">
<circle cx="65" cy="1134.5" r="26.5"/><circle cx="137" cy="1134.5" r="26.5"/><circle cx="209.5" cy="1134.5" r="26.5"/>
</g>
<g fill="#c6cfd7">
</g><g fill="none" stroke="#c6cfd7" stroke-width="4.6"><path d="M62.2,1129.5 A6.8,6.8 0 1 0 62.2,1139.5"/><path d="M78.2,1129.5 A6.8,6.8 0 1 0 78.2,1139.5"/></g><g fill="#c6cfd7">
<circle cx="137" cy="1119" r="4"/>
<rect x="129" y="1125" width="16" height="14" rx="1"/>
<rect x="132.5" y="1137" width="9" height="16"/>
<rect x="199" y="1127" width="22" height="5"/>
<rect x="199" y="1137" width="22" height="5"/>
</g>
<g transform="translate(0,1163.7) scale(1,1.08) translate(0,-1163.7)"><text x="864" y="1163.7" font-weight="bold" font-size="76" fill="#0f2745" textLength="223" lengthAdjust="spacingAndGlyphs">statista</text></g>
<rect x="1105" y="1106" width="58.5" height="58" rx="2" fill="#0f2745"/>
<path d="M1105,1145 C1128,1145 1132,1113 1163.5,1112 L1163.5,1126 C1142,1127 1132,1157 1105,1157 Z" fill="#f3f6f9"/>
</svg>
</body></html>
